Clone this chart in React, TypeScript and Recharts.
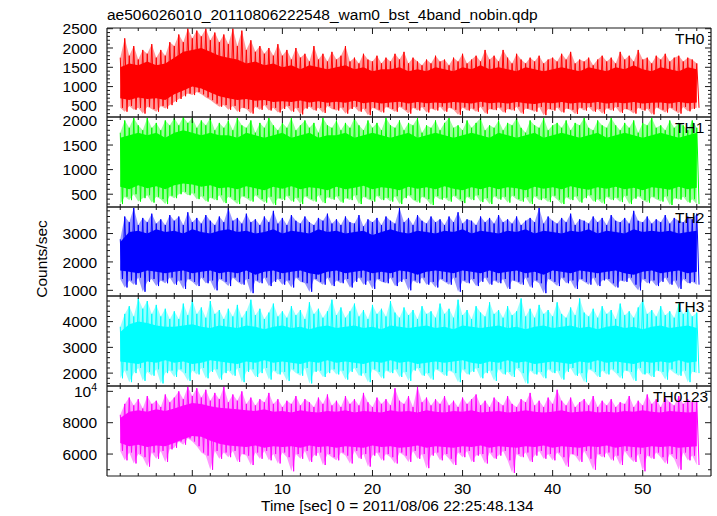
import React from 'react';
import { ComposedChart, Area, Line, XAxis, YAxis } from 'recharts';

const FONT = '"Liberation Sans", Arial, Helvetica, sans-serif';
const INK = '#1a1a1a';
const FS = 15.5;

// time grid: light curve starts at -8 s, envelope bins 0.5 s, core bins 1 s
const T_START = -8;
const X_DOMAIN = [-9.47, 57.58];
const xTicks = [-8, -6, -4, -2, 0, 2, 4, 6, 8, 10, 12, 14, 16, 18, 20, 22, 24, 26, 28, 30, 32, 34, 36, 38, 40, 42, 44, 46, 48, 50, 52, 54, 56];

// TH0 (red)
const th0Hi = [
  1750, 2250, 1800, 2050, 1700, 1950, 1850, 2100, 1750, 1950, 1800, 2150,
  2050, 2350, 2150, 2500, 2250, 2450, 2300, 2500, 2200, 2400, 2150, 2350,
  2100, 2500, 2050, 2450, 1950, 2200, 1900, 2050, 1850, 2000, 1800, 2100,
  1800, 1950, 1700, 2000, 1750, 1850, 1650, 2050, 1700, 1850, 1650, 1900,
  1700, 1800, 2050, 1650, 1750, 1600, 1850, 1700, 1650, 1800, 1600, 1750,
  1650, 1850, 1700, 1900, 1600, 1750, 1650, 1550, 1700, 1600, 1800, 1650,
  1700, 1550, 1750, 1650, 1850, 1600, 1700, 1800, 1650, 1950, 1700, 1800,
  1650, 1950, 1750, 1600, 1850, 1700, 1600, 1750, 1650, 1800, 1600, 1700,
  1750, 1650, 1850, 1700, 1900, 1600, 1700, 1650, 1750, 1550, 1700, 1800,
  1650, 1750, 1600, 1900, 1700, 1800, 1650, 1950, 1700, 1750, 1600, 1800,
  1700, 1850, 1650, 1750, 1800, 1650, 1750, 1700, 1600,
];
const th0Lo = [
  450, 350, 500, 400, 450, 300, 480, 420, 350, 500, 430, 520,
  600, 680, 750, 820, 780, 860, 800, 720, 650, 560, 480, 520,
  400, 500, 350, 450, 420, 300, 480, 400, 520, 380, 450, 330,
  420, 500, 350, 450, 280, 430, 480, 380, 450, 320, 500, 420,
  380, 460, 300, 420, 480, 350, 430, 260, 450, 400, 330, 470,
  420, 350, 480, 400, 300, 450, 380, 470, 330, 430, 380, 480,
  350, 450, 400, 270, 460, 380, 430, 350, 480, 300, 420, 390,
  460, 330, 420, 380, 480, 300, 430, 400, 350, 470, 260, 420,
  380, 460, 330, 430, 400, 290, 450, 380, 470, 350, 420, 300,
  440, 380, 470, 320, 420, 390, 300, 450, 380, 430, 280, 460,
  400, 330, 450, 380, 300, 470, 360, 420, 450,
];
const th0CoreHi = [
  1500, 1600, 1550, 1650, 1550, 1600,
  1750, 1900, 1950, 2000, 1900, 1800,
  1750, 1700, 1600, 1650, 1550, 1600,
  1500, 1550, 1450, 1550, 1500, 1450,
  1500, 1550, 1450, 1500, 1400, 1450,
  1450, 1500, 1400, 1450, 1400, 1500,
  1450, 1400, 1500, 1450, 1550, 1450,
  1500, 1450, 1400, 1500, 1450, 1400,
  1450, 1500, 1450, 1400, 1500, 1450,
  1400, 1500, 1450, 1550, 1450, 1400,
  1500, 1450, 1400, 1500, 1450,
];
const th0CoreLo = [
  700, 650, 720, 680, 700, 650,
  800, 900, 1000, 950, 850, 750,
  700, 650, 680, 630, 650, 600,
  620, 600, 640, 590, 620, 580,
  610, 580, 630, 570, 600, 560,
  590, 610, 560, 600, 570, 590,
  570, 600, 580, 560, 610, 570,
  590, 560, 600, 570, 550, 590,
  570, 600, 560, 590, 570, 600,
  560, 590, 570, 600, 560, 580,
  590, 560, 600, 570, 590,
];

// TH1 (green)
const th1Hi = [
  1750, 2000, 1850, 2050, 1900, 1800, 2050, 1850, 1950, 1800, 2000, 1900,
  2050, 1900, 2070, 1950, 2050, 1850, 2000, 1900, 2050, 1800, 1950, 1850,
  2000, 1800, 2050, 1900, 1850, 2000, 1750, 1950, 1850, 2050, 1900, 1800,
  1950, 1850, 2050, 1800, 1900, 2000, 1850, 1950, 1750, 2050, 1900, 1850,
  2000, 1800, 1950, 1850, 2050, 1900, 1800, 2000, 1850, 1950, 1800, 2050,
  1900, 1850, 2000, 1800, 1950, 1900, 2050, 1750, 1900, 1850, 2000, 1800,
  1950, 2050, 1850, 1900, 1800, 2000, 1850, 1950, 2050, 1800, 1900, 1850,
  2000, 1800, 1950, 1900, 2050, 1850, 1750, 2000, 1900, 1850, 2050, 1800,
  1900, 1950, 1850, 2000, 1800, 1950, 1900, 2050, 1850, 1800, 2000, 1900,
  1850, 2050, 1900, 1800, 1950, 1850, 2000, 1750, 1950, 1900, 2050, 1850,
  1900, 1800, 2000, 1850, 1950, 1900, 1800, 2000, 1850,
];
const th1Lo = [
  300, 450, 380, 500, 350, 420, 480, 330, 450, 400, 300, 470,
  420, 500, 550, 480, 520, 400, 460, 350, 430, 380, 480, 320,
  450, 380, 300, 460, 420, 350, 480, 400, 330, 450, 280, 420,
  380, 470, 350, 430, 300, 460, 400, 350, 480, 320, 440, 390,
  460, 330, 420, 380, 480, 300, 450, 400, 350, 470, 380, 430,
  350, 460, 300, 420, 480, 380, 330, 450, 400, 280, 460, 390,
  430, 350, 470, 400, 320, 450, 380, 480, 340, 420, 300, 460,
  390, 450, 330, 470, 400, 350, 440, 300, 460, 380, 420, 340,
  470, 390, 300, 440, 380, 460, 330, 420, 480, 350, 400, 310,
  450, 380, 430, 340, 470, 300, 410, 460, 380, 330, 450, 400,
  350, 460, 280, 420, 390, 450, 330, 400, 300,
];
const th1CoreHi = [
  1650, 1700, 1750, 1700, 1750, 1650,
  1750, 1800, 1750, 1700, 1750, 1700,
  1700, 1650, 1750, 1700, 1650, 1700,
  1750, 1650, 1700, 1750, 1650, 1700,
  1700, 1750, 1650, 1700, 1750, 1700,
  1650, 1700, 1750, 1650, 1700, 1750,
  1700, 1650, 1700, 1750, 1700, 1650,
  1750, 1700, 1650, 1700, 1750, 1650,
  1700, 1750, 1700, 1650, 1700, 1750,
  1650, 1700, 1750, 1700, 1650, 1700,
  1750, 1700, 1650, 1700, 1750,
];
const th1CoreLo = [
  650, 600, 680, 620, 660, 600,
  680, 720, 700, 650, 680, 620,
  640, 600, 660, 620, 580, 650,
  610, 660, 600, 640, 620, 580,
  650, 600, 630, 670, 600, 640,
  620, 580, 650, 610, 640, 600,
  660, 610, 580, 640, 600, 650,
  600, 640, 620, 580, 650, 610,
  640, 600, 660, 620, 590, 640,
  610, 650, 600, 630, 580, 640,
  620, 590, 650, 600, 630,
];

// TH2 (blue)
const th2Hi = [
  2800, 3600, 3400, 3900, 3300, 3550, 3400, 3700, 3350, 3500, 3300, 3650,
  3450, 3600, 3300, 3750, 3400, 3550, 3350, 3650, 3450, 3300, 3600, 3400,
  3900, 3450, 3550, 3350, 3700, 3400, 3500, 3300, 3600, 3400, 3800, 3350,
  3550, 3300, 3650, 3450, 3350, 3600, 3400, 3300, 3550, 3450, 3700, 3350,
  3500, 3300, 3600, 3400, 3350, 3650, 3250, 3500, 3400, 3550, 3300, 3600,
  3450, 3350, 3900, 3400, 3550, 3300, 3650, 3450, 3350, 3600, 3400, 3500,
  3300, 3600, 3400, 3750, 3350, 3500, 3450, 3300, 3600, 3400, 3550, 3350,
  3650, 3400, 3500, 3350, 3600, 3300, 3450, 3550, 3400, 3900, 3350, 3600,
  3450, 3350, 3550, 3400, 3700, 3300, 3500, 3450, 3350, 3600, 3400, 3550,
  3300, 3650, 3450, 3400, 3550, 3350, 3800, 3450, 3400, 3600, 3350, 3500,
  3400, 3650, 3350, 3550, 3450, 3400, 3600, 3500, 3700,
];
const th2Lo = [
  1400, 1100, 1350, 1200, 1450, 950, 1300, 1400, 1150, 1350, 1250, 1450,
  1200, 1350, 1050, 1400, 1300, 1150, 1450, 1250, 1350, 1000, 1400, 1300,
  1150, 1450, 1300, 1200, 1400, 900, 1350, 1250, 1450, 1150, 1300, 1400,
  1200, 1350, 1100, 1450, 1300, 1250, 950, 1400, 1300, 1200, 1450, 1150,
  1350, 1250, 1400, 1100, 1300, 1450, 1200, 1350, 1050, 1400, 1300, 1250,
  1450, 1150, 1300, 1400, 1000, 1350, 1250, 1450, 1200, 1300, 1100, 1400,
  1300, 1200, 1450, 950, 1350, 1250, 1400, 1150, 1300, 1450, 1200, 1350,
  1250, 1400, 1050, 1350, 1300, 1200, 1450, 1100, 1350, 1250, 900, 1400,
  1300, 1150, 1450, 1250, 1350, 1050, 1400, 1300, 1200, 1450, 1150, 1350,
  1400, 1250, 1100, 1350, 1300, 1450, 1200, 1000, 1400, 1250, 1350, 1150,
  1300, 1450, 1200, 1350, 1050, 1400, 1250, 1300, 1200,
];
const th2CoreHi = [
  2700, 3050, 3100, 3000, 3150, 3050,
  3100, 3000, 3150, 3050, 3000, 3100,
  3150, 3050, 3100, 3000, 3050, 3150,
  3000, 3100, 3050, 3000, 3150, 3050,
  3100, 3000, 3050, 3100, 2950, 3050,
  3150, 3050, 3000, 3100, 3050, 3000,
  3100, 3050, 3150, 3000, 3100, 3050,
  3000, 3100, 3050, 3150, 3000, 3100,
  3050, 3000, 3100, 3050, 3150, 3000,
  3100, 3050, 3000, 3150, 3050, 3100,
  3050, 3100, 3000, 3050, 3100,
];
const th2CoreLo = [
  1700, 1650, 1600, 1700, 1650, 1600,
  1650, 1700, 1600, 1650, 1700, 1600,
  1650, 1600, 1700, 1550, 1650, 1700,
  1600, 1650, 1700, 1600, 1550, 1650,
  1700, 1600, 1650, 1700, 1600, 1650,
  1600, 1700, 1650, 1550, 1650, 1700,
  1650, 1600, 1700, 1650, 1600, 1700,
  1600, 1650, 1700, 1600, 1650, 1550,
  1700, 1650, 1600, 1700, 1650, 1600,
  1650, 1700, 1600, 1550, 1650, 1700,
  1600, 1650, 1700, 1600, 1650,
];

// TH3 (cyan)
const th3Hi = [
  3800, 4300, 4600, 4200, 4900, 4500, 4800, 4300, 4650, 4200, 4500, 4100,
  4400, 4100, 4700, 4250, 4850, 4300, 4550, 4150, 4800, 4300, 4450, 4100,
  4500, 4200, 4650, 4150, 4400, 4850, 4250, 4500, 4100, 4350, 4700, 4200,
  4400, 4150, 4600, 4250, 4450, 4100, 4750, 4300, 4500, 4150, 4400, 4850,
  4250, 4550, 4150, 4400, 4700, 4200, 4450, 4100, 4650, 4300, 4500, 4200,
  4800, 4350, 4150, 4550, 4250, 4450, 4100, 4600, 4300, 4400, 4150, 4700,
  4300, 4500, 4150, 4850, 4250, 4450, 4100, 4600, 4350, 4200, 4750, 4300,
  4450, 4150, 4600, 4250, 4400, 4900, 4200, 4500, 4150, 4650, 4300, 4450,
  4200, 4750, 4300, 4150, 4550, 4250, 4900, 4350, 4200, 4500, 4150, 4600,
  4300, 4450, 4100, 4700, 4250, 4400, 4150, 4550, 4850, 4300, 4450, 4200,
  4600, 4250, 4400, 4150, 4700, 4300, 4500, 4200, 4350,
];
const th3Lo = [
  1800, 2100, 1650, 2000, 2200, 1700, 2050, 1900, 2150, 1600, 2000, 2100,
  1850, 2150, 2000, 1700, 2100, 1950, 2200, 1800, 2050, 2150, 1750, 2000,
  2100, 1900, 2200, 1650, 2050, 2150, 1850, 2000, 2200, 1750, 2100, 1950,
  2050, 1700, 2150, 2000, 1900, 2200, 1600, 2050, 2100, 1850, 2000, 2150,
  1950, 2100, 1750, 2050, 2200, 1900, 2000, 1650, 2150, 2050, 1800, 2100,
  2000, 2150, 1850, 2050, 1700, 2100, 2200, 1900, 2000, 1750, 2150, 2050,
  1900, 2100, 2000, 1650, 2150, 1950, 2050, 2200, 1800, 2000, 2100, 1700,
  2150, 1950, 2050, 1850, 2200, 2000, 1600, 2100, 1950, 2050, 1800, 2150,
  2000, 2100, 1750, 2050, 2200, 1900, 2000, 1650, 2150, 2050, 1850, 2100,
  1950, 2150, 2000, 1800, 2100, 2050, 1700, 2200, 1950, 2000, 1850, 2100,
  2050, 1750, 2150, 2000, 1900, 2100, 1650, 2050, 2000,
];
const th3CoreHi = [
  3600, 3900, 4000, 3950, 3850, 3800,
  3800, 3850, 3900, 3800, 3750, 3850,
  3800, 3750, 3850, 3800, 3700, 3800,
  3850, 3750, 3800, 3700, 3800, 3850,
  3750, 3800, 3850, 3750, 3800, 3700,
  3850, 3800, 3750, 3800, 3850, 3750,
  3800, 3700, 3850, 3800, 3750, 3800,
  3850, 3750, 3800, 3700, 3800, 3850,
  3750, 3800, 3850, 3750, 3800, 3700,
  3800, 3850, 3750, 3800, 3700, 3800,
  3850, 3750, 3800, 3850, 3750,
];
const th3CoreLo = [
  2450, 2400, 2350, 2450, 2400, 2500,
  2400, 2450, 2350, 2400, 2500, 2450,
  2400, 2350, 2450, 2400, 2500, 2400,
  2450, 2400, 2350, 2450, 2400, 2500,
  2400, 2450, 2400, 2350, 2450, 2400,
  2500, 2400, 2450, 2350, 2400, 2450,
  2400, 2450, 2500, 2400, 2350, 2450,
  2400, 2500, 2400, 2450, 2350, 2400,
  2450, 2400, 2350, 2450, 2400, 2500,
  2400, 2450, 2400, 2350, 2450, 2400,
  2450, 2400, 2500, 2400, 2450,
];

// TH0123 (magenta)
const th0123Hi = [
  8500, 9200, 9600, 9100, 9500, 8900, 9700, 9200, 9400, 9000, 9800, 9300,
  9600, 10000, 9500, 10300, 9700, 10200, 9600, 10100, 9400, 9900, 9500, 10300,
  9300, 9800, 9400, 10000, 9200, 9600, 9100, 9500, 9300, 9900, 9200, 9500,
  9000, 9400, 9200, 9700, 9100, 9500, 9300, 9000, 9600, 9200, 9800, 9100,
  9400, 9000, 9700, 9200, 9500, 9100, 9900, 9300, 9000, 9600, 9200, 9500,
  9100, 10200, 9400, 9200, 9700, 9000, 10300, 9300, 9600, 9100, 9500, 9200,
  9700, 9100, 9400, 9000, 9600, 9200, 9500, 9800, 9100, 9400, 9000, 9600,
  9300, 9100, 9700, 9200, 9000, 9500, 9300, 9900, 9100, 9400, 9000, 9600,
  9200, 10100, 9400, 9100, 9600, 9000, 9300, 9500, 9100, 9700, 9000, 9400,
  9100, 9500, 9000, 9300, 9200, 9700, 9000, 9400, 9100, 9800, 9200, 9500,
  9000, 9600, 9300, 9100, 9700, 9200, 9500, 9300, 9400,
];
const th0123Lo = [
  6200, 5600, 6100, 5400, 6000, 5800, 5200, 6100, 5700, 6200, 5500, 6300,
  6400, 6800, 6600, 7000, 6800, 6500, 6100, 5900, 5000, 6200, 5700, 6100,
  5800, 6200, 5500, 6000, 5900, 5300, 6100, 5700, 6200, 5600, 6000, 5400,
  6100, 5800, 4900, 6000, 5700, 6200, 5500, 5900, 6100, 5300, 6000, 5800,
  5600, 6100, 5900, 5400, 6200, 5700, 6000, 5200, 5900, 6100, 5600, 6000,
  5800, 5400, 6100, 5900, 5500, 6200, 5700, 6000, 5100, 5900, 6100, 5600,
  6000, 5700, 5300, 6100, 5800, 6200, 5500, 5900, 6000, 5400, 6100, 5700,
  5900, 6200, 5600, 4800, 6000, 5800, 6100, 5500, 5900, 6200, 5700, 6000,
  5600, 6100, 5800, 5200, 6000, 5900, 5500, 6200, 5700, 5000, 6000, 5800,
  6100, 5600, 5900, 5300, 6200, 5800, 5500, 6000, 4900, 5900, 5700, 6100,
  5800, 5400, 6000, 5700, 5000, 6100, 5600, 5900, 5300,
];
const th0123CoreHi = [
  8300, 8700, 8800, 8700, 8850, 8750,
  8900, 9100, 9250, 9200, 9050, 8950,
  8900, 8850, 8800, 8750, 8850, 8700,
  8750, 8650, 8800, 8700, 8650, 8750,
  8700, 8800, 8650, 8750, 8700, 8650,
  8800, 8700, 8750, 8650, 8800, 8700,
  8650, 8750, 8700, 8800, 8650, 8700,
  8750, 8650, 8700, 8800, 8700, 8650,
  8700, 8800, 8650, 8700, 8750, 8650,
  8700, 8650, 8750, 8700, 8800, 8700,
  8650, 8750, 8700, 8650, 8700,
];
const th0123CoreLo = [
  6700, 6500, 6600, 6450, 6550, 6500,
  6700, 6950, 7150, 7100, 6850, 6650,
  6550, 6500, 6450, 6550, 6400, 6500,
  6450, 6500, 6400, 6550, 6450, 6500,
  6400, 6500, 6450, 6400, 6550, 6450,
  6500, 6400, 6450, 6550, 6400, 6500,
  6450, 6400, 6500, 6450, 6550, 6400,
  6500, 6450, 6400, 6500, 6450, 6550,
  6400, 6500, 6450, 6400, 6500, 6450,
  6550, 6400, 6500, 6450, 6400, 6500,
  6450, 6500, 6400, 6450, 6500,
];

const panels = [
  { name: 'TH0', color: '#ff0000', hi: th0Hi, lo: th0Lo, coreHi: th0CoreHi, coreLo: th0CoreLo,
    domain: [212, 2518], top: 28, bottom: 117, minor: [300, 2500, 100], major: 500, labelX: 675 },
  { name: 'TH1', color: '#00ff00', hi: th1Hi, lo: th1Lo, coreHi: th1CoreHi, coreLo: th1CoreLo,
    domain: [240, 2070], top: 117, bottom: 207, minor: [300, 2000, 100], major: 500, labelX: 675 },
  { name: 'TH2', color: '#0000ff', hi: th2Hi, lo: th2Lo, coreHi: th2CoreHi, coreLo: th2CoreLo,
    domain: [800, 3935], top: 207, bottom: 296, minor: [1000, 3800, 200], major: 1000, labelX: 675 },
  { name: 'TH3', color: '#00ffff', hi: th3Hi, lo: th3Lo, coreHi: th3CoreHi, coreLo: th3CoreLo,
    domain: [1500, 4995], top: 296, bottom: 386, minor: [1600, 4800, 200], major: 1000, labelX: 675 },
  { name: 'TH0123', color: '#ff00ff', hi: th0123Hi, lo: th0123Lo, coreHi: th0123CoreHi, coreLo: th0123CoreLo,
    domain: [4600, 10340], top: 386, bottom: 476, minor: [5000, 10000, 1000], major: 2000, labelX: 653 },
];

const PAD = 12;

function steps(from: number, to: number, step: number) {
  const out: number[] = [];
  for (let v = from; v <= to + 1e-9; v += step) out.push(v);
  return out;
}

function xTick(side: 'bottom' | 'top', showLabel: boolean) {
  return (props: any) => {
    const { x, y, payload } = props;
    const v = payload.value;
    const major = v % 10 === 0;
    const len = major ? 6 : 3;
    const dir = side === 'bottom' ? -1 : 1;
    return (
      <g>
        <line x1={x} y1={y} x2={x} y2={y + dir * len} stroke={INK} strokeWidth={1} />
        {showLabel && major && (
          <text x={x} y={y + 17.5} textAnchor="middle" fontSize={FS} fontFamily={FONT} fill="#000">
            {v}
          </text>
        )}
      </g>
    );
  };
}

function yTick(side: 'left' | 'right', major: number) {
  return (props: any) => {
    const { x, y, payload } = props;
    const v = payload.value;
    const isMajor = v % major === 0;
    const len = isMajor ? 6 : 3;
    const dir = side === 'left' ? 1 : -1;
    return (
      <g>
        <line x1={x} y1={y} x2={x + dir * len} y2={y} stroke={INK} strokeWidth={1} />
        {side === 'left' && isMajor && (
          <text x={x - 10} y={y} dy="0.36em" textAnchor="end" fontSize={FS} fontFamily={FONT} fill="#000">
            {v === 10000 ? (
              <>
                10<tspan dy={-6} fontSize={10.5}>4</tspan>
              </>
            ) : (
              v
            )}
          </text>
        )}
      </g>
    );
  };
}

function Panel({ p, last }: { p: (typeof panels)[number]; last: boolean }) {
  const h = p.bottom - p.top;
  const padBottom = last ? 30 : PAD;
  const outer = p.hi.map((v, i) => ({ t: T_START + i * 0.5, range: [p.lo[i], v] }));
  const core = p.coreHi.map((v, i) => ({ t: T_START + i, range: [p.coreLo[i], v] }));
  // trace swinging between the bin maximum and minimum, like the raw light curve
  const trace = p.hi.flatMap((v, i) => [
    { t: T_START + i * 0.5, v },
    { t: T_START + i * 0.5 + 0.25, v: p.lo[i] },
  ]);
  const yTicks = steps(p.minor[0], p.minor[1], p.minor[2]);
  const axisLine = { stroke: INK, strokeWidth: 1.2 };
  return (
    <div style={{ position: 'absolute', left: 0, top: p.top - PAD }}>
      <ComposedChart width={717} height={h + PAD + padBottom} margin={{ top: 0, right: 0, bottom: 0, left: 47 }}>
        <XAxis xAxisId="b" dataKey="t" type="number" domain={X_DOMAIN} allowDataOverflow ticks={xTicks}
          interval={0} height={padBottom} tickSize={0} tickMargin={0} tickLine={false} axisLine={axisLine}
          tick={xTick('bottom', last)} />
        <XAxis xAxisId="t" orientation="top" dataKey="t" type="number" domain={X_DOMAIN} allowDataOverflow
          ticks={xTicks} interval={0} height={PAD} tickSize={0} tickMargin={0} tickLine={false}
          axisLine={axisLine} tick={xTick('top', false)} />
        <YAxis yAxisId="l" type="number" domain={p.domain} allowDataOverflow ticks={yTicks} interval={0}
          width={60} tickSize={0} tickMargin={0} tickLine={false} axisLine={axisLine} tick={yTick('left', p.major)} />
        <YAxis yAxisId="r" orientation="right" type="number" domain={p.domain} allowDataOverflow ticks={yTicks}
          interval={0} width={6} tickSize={0} tickMargin={0} tickLine={false} axisLine={axisLine}
          tick={yTick('right', p.major)} />
        <Area xAxisId="b" yAxisId="l" data={outer} dataKey="range" type="linear" fill={p.color}
          fillOpacity={0.4} stroke="none" dot={false} activeDot={false} isAnimationActive={false} />
        <Area xAxisId="b" yAxisId="l" data={core} dataKey="range" type="linear" fill={p.color}
          fillOpacity={1} stroke="none" dot={false} activeDot={false} isAnimationActive={false} />
        <Line xAxisId="b" yAxisId="l" data={trace} dataKey="v" type="linear" stroke={p.color}
          strokeWidth={1} dot={false} activeDot={false} isAnimationActive={false} />
      </ComposedChart>
    </div>
  );
}

export default function App() {
  return (
    <div style={{ position: 'fixed', left: 0, top: 0, width: 717, height: 516, background: '#fff', overflow: 'hidden' }}>
      {panels.map((p, i) => (
        <Panel key={p.name} p={p} last={i === panels.length - 1} />
      ))}
      <svg width={717} height={516} style={{ position: 'absolute', left: 0, top: 0, pointerEvents: 'none' }}>
        <text x={107} y={20} fontSize={FS} fontFamily={FONT} fill="#000">
          ae506026010_20110806222548_wam0_bst_4band_nobin.qdp
        </text>
        <text transform="translate(47,259) rotate(-90)" textAnchor="middle" fontSize={FS} fontFamily={FONT} fill="#000">
          Counts/sec
        </text>
        <text x={261} y={511} fontSize={FS} fontFamily={FONT} fill="#000">
          Time [sec] 0 = 2011/08/06 22:25:48.134
        </text>
        {panels.map((p) => (
          <text key={p.name} x={p.labelX} y={p.top + 15.5} fontSize={FS} fontFamily={FONT} fill="#000">
            {p.name}
          </text>
        ))}
      </svg>
    </div>
  );
}
